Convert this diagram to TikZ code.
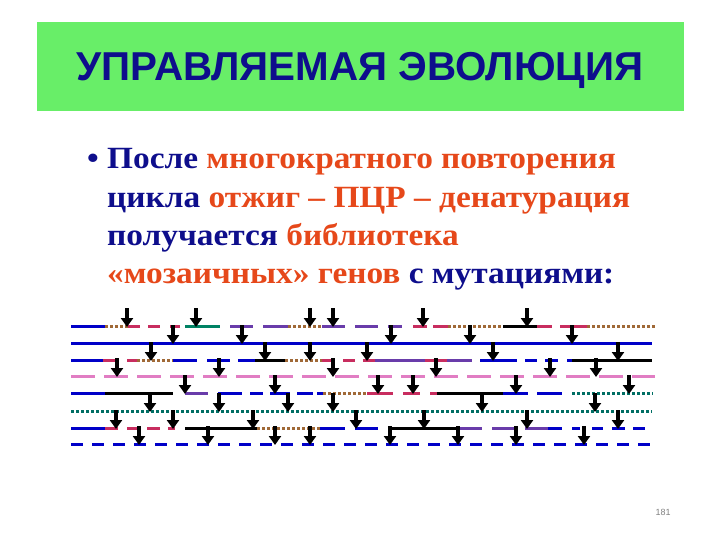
\documentclass[tikz,border=0pt]{standalone}
\usepackage{fontspec}
\setmainfont{Liberation Serif}[FakeStretch=1.08]
\newfontfamily\titlefont{Liberation Sans}
\usetikzlibrary{arrows.meta}
\definecolor{navy}{RGB}{14,14,140}
\definecolor{orangered}{RGB}{230,72,26}
\definecolor{bandgreen}{RGB}{104,238,104}
\definecolor{dnablue}{RGB}{0,0,200}
\definecolor{dnacrimson}{RGB}{200,45,95}
\definecolor{dnateal}{RGB}{0,130,100}
\definecolor{dnapurple}{RGB}{105,60,170}
\definecolor{dnabrown}{RGB}{160,105,55}
\definecolor{dnapink}{RGB}{225,125,195}
\definecolor{dnagreen}{RGB}{0,110,100}

\begin{document}
\begin{tikzpicture}[x=1bp,y=-1bp]
\tikzstyle{seg}=[line width=3bp]
\tikzstyle{segblue}=[seg,dnablue]
\tikzstyle{segblack}=[seg,black]
\tikzstyle{segcrimson}=[seg,dnacrimson]
\tikzstyle{segteal}=[seg,dnateal]
\tikzstyle{segpurple}=[seg,dnapurple]
\tikzstyle{segbrown}=[seg,dnabrown,dash pattern=on 2.5bp off 2.5bp]
\tikzstyle{segpink}=[seg,dnapink,dash pattern=on 24bp off 9bp]
\tikzstyle{seggreen}=[seg,dnagreen,dash pattern=on 2.5bp off 2.5bp]
\tikzstyle{segdash}=[seg,dnablue,dash pattern=on 12bp off 9bp]
\tikzstyle{mutation}=[line width=4bp,-{Triangle[width=12bp,length=9bp]}]
\tikzstyle{body}=[anchor=base west,inner sep=0,font=\bfseries\fontsize{31}{38}\selectfont]

\useasboundingbox (0,0) rectangle (720,540);

% title band
\node(band)[fill=bandgreen,minimum width=647bp,minimum height=89bp,inner sep=0] at (360.5,66.5) {};
\node(title)[navy,font=\titlefont\bfseries\fontsize{40.5}{48}\selectfont] at (360,70) {УПРАВЛЯЕМАЯ ЭВОЛЮЦИЯ};

% bullet text
\node(bullet)[body,navy] at (87,169) {•};
\node(line1)[body] at (107,169) {\color{navy}После \color{orangered}многократного повторения};
\node(line2)[body] at (107,208) {\color{navy}цикла \color{orangered}отжиг – ПЦР – денатурация};
\node(line3)[body] at (107,246) {\color{navy}получается \color{orangered}библиотека};
\node(line4)[body] at (107,284) {\color{orangered}«мозаичных» генов \color{navy}с мутациями:};

% genes
\foreach \xa/\xb/\st in {71/105/segblue,105/128/segbrown,128/140/segcrimson,148/160/segcrimson,
  170/180/segcrimson,185/220/segteal,230/253/segpurple,263/288/segpurple,288/322/segbrown,
  322/345/segpurple,355/378/segpurple,388/402/segpurple,413/427/segcrimson,433/448/segcrimson,
  448/503/segbrown,503/537/segblack,537/552/segcrimson,560/587/segcrimson,587/655/segbrown}
  \draw[\st] (\xa,326) -- (\xb,326);
\draw[segblue] (71,343) -- (652,343);
\foreach \xa/\xb/\st in {71/103/segblue,103/117/segcrimson,127/137/segcrimson,137/173/segbrown,
  173/197/segblue,207/230/segblue,238/255/segblue,255/285/segblack,285/322/segbrown,
  322/333/segcrimson,343/355/segcrimson,363/375/segcrimson,375/425/segpurple,425/447/segcrimson,
  447/472/segpurple,480/517/segblue,525/537/segblue,545/558/segblue,567/572/segblue,572/652/segblack}
  \draw[\st] (\xa,360) -- (\xb,360);
\draw[segpink] (71,376) -- (655,376);
\foreach \xa/\xb/\st in {71/105/segblue,105/173/segblack,185/208/segpurple,218/242/segblue,
  250/263/segblue,270/290/segblue,297/313/segblue,317/323/segblue,323/367/segbrown,
  367/393/segcrimson,403/420/segcrimson,430/437/segcrimson,437/503/segblack,503/528/segblue,
  537/562/segblue,572/653/seggreen}
  \draw[\st] (\xa,393) -- (\xb,393);
\draw[seggreen] (71,411) -- (652,411);
\foreach \xa/\xb/\st in {71/105/segblue,105/118/segcrimson,127/137/segcrimson,147/160/segcrimson,
  168/175/segcrimson,185/257/segblack,257/320/segbrown,320/345/segblue,355/378/segblue,
  388/457/segblack,458/482/segpurple,492/515/segpurple,525/548/segpurple,548/562/segblue,
  572/580/segblue,592/603/segblue,612/625/segblue,633/645/segblue}
  \draw[\st] (\xa,428) -- (\xb,428);
\draw[segdash] (71,444) -- (652,444);

% mutations
\foreach \ya/\xs in {326/{127,196,310,333,423,527},343/{173,242,391,470,572},
  360/{151,265,310,367,493,618},376/{117,219,333,436,550,596},
  393/{185,275,378,413,516,629},411/{150,219,288,333,482,595},
  428/{116,173,253,356,424,527,618},444/{139,208,275,310,390,458,516,584}}
  \foreach \x in \xs
    \draw[mutation] (\x,\ya-18) -- (\x,\ya+1);

% slide number
\node(pagenum)[gray,font=\titlefont\fontsize{9}{10}\selectfont] at (663,512) {181};
\end{tikzpicture}
\end{document}
